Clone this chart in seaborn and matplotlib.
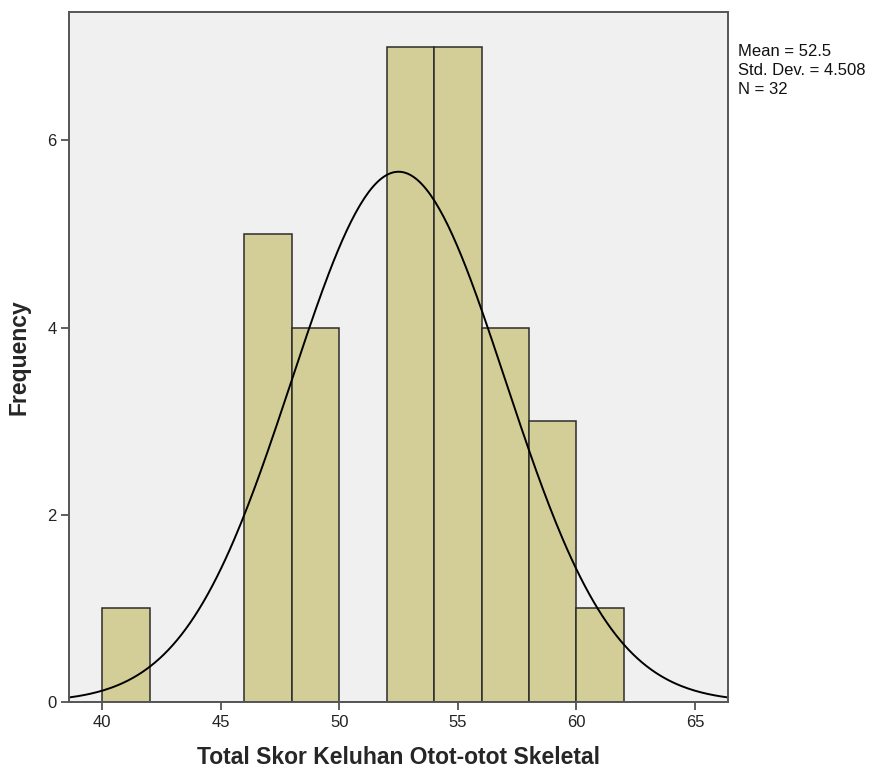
import numpy as np
import pandas as pd
import matplotlib
matplotlib.use("Agg")
import matplotlib.pyplot as plt
import seaborn as sns

# histogram bins (left edges) and frequencies
bin_left = [40, 42, 44, 46, 48, 50, 52, 54, 56, 58, 60]
freq = [1, 0, 0, 5, 4, 0, 7, 7, 4, 3, 1]
bin_width = 2

mean_val = 52.5
std_val = 4.508
n_val = 32

x_ticks = [40, 45, 50, 55, 60, 65]
y_ticks = [0, 2, 4, 6]

df = pd.DataFrame({"mid": [b + bin_width / 2 for b in bin_left], "freq": freq})

sns.set_style("ticks")
plt.rcParams["font.family"] = ["Liberation Sans", "DejaVu Sans"]

fig = plt.figure(figsize=(8.72, 7.73), dpi=100)
ax = fig.add_axes([0.0791, 0.0918, 0.7559, 0.8927])
ax.set_facecolor("#F0F0F0")

sns.histplot(data=df, x="mid", weights="freq", binwidth=bin_width,
             binrange=(bin_left[0], bin_left[-1] + bin_width),
             color="#D3CE97", alpha=1, edgecolor="#2b2b2b", linewidth=1.1, ax=ax)

# fitted normal curve scaled to counts
xs = np.linspace(38.6, 66.4, 300)
ys = n_val * bin_width * np.exp(-0.5 * ((xs - mean_val) / std_val) ** 2) / (std_val * np.sqrt(2 * np.pi))
sns.lineplot(x=xs, y=ys, color="black", linewidth=1.4, ax=ax)

ax.set_xlim(38.6, 66.4)
ax.set_ylim(0, 7.37)
ax.set_xticks(x_ticks)
ax.set_yticks(y_ticks)
ax.tick_params(axis="both", direction="out", length=6, width=1.2, color="#444444",
               labelsize=12, labelcolor="#222222", pad=3)

for s in ax.spines.values():
    s.set_visible(True)
    s.set_color("#555555")
    s.set_linewidth(1.4)

ax.set_xlabel("Total Skor Keluhan Otot-otot Skeletal", fontsize=16.5, fontweight="bold", labelpad=12)
ax.set_ylabel("Frequency", fontsize=16.5, fontweight="bold", labelpad=12)

fig.text(0.846, 0.943, f"Mean = {mean_val}\nStd. Dev. = {std_val}\nN = {n_val}",
         fontsize=12, va="top", ha="left", linespacing=1.35, color="#111111")

fig.savefig("out.png", dpi=100)
